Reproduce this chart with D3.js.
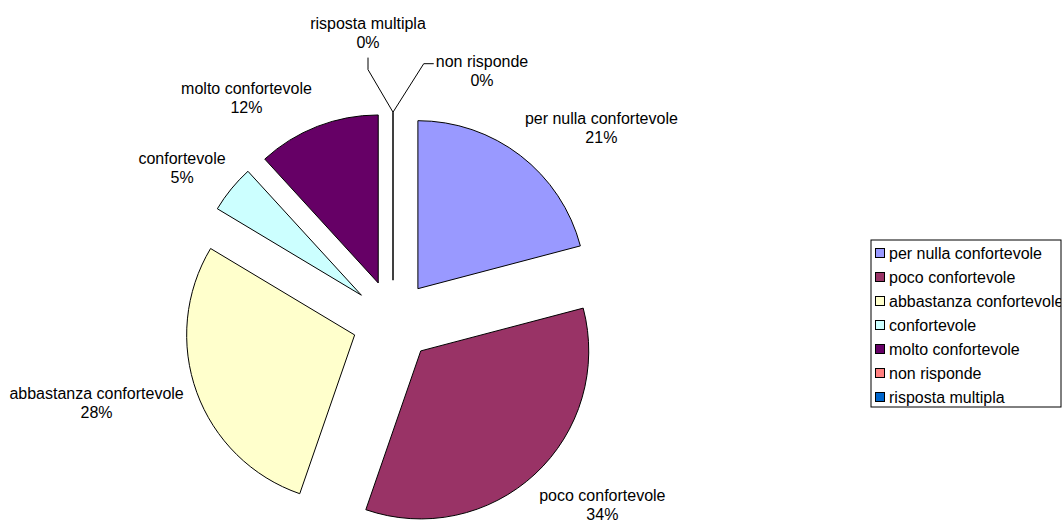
<!DOCTYPE html>
<html><head><meta charset="utf-8">
<script src="https://cdn.jsdelivr.net/npm/d3@7/dist/d3.min.js"></script>
<style>
body{margin:0;background:#fff;}
svg text{font-family:Arial,"Liberation Sans",sans-serif;font-size:16px;fill:#000;}
</style>
</head><body>
<svg id="chart" width="1062" height="524"></svg>
<script>
// ---- data ----
const categories = ["per nulla confortevole","poco confortevole","abbastanza confortevole","confortevole","molto confortevole","non risponde","risposta multipla"];
const values = [20.9,34.4,28.3,4.6,11.8,0,0];
const percentLabels = ["21%","34%","28%","5%","12%","0%","0%"];
const colors = ["#9999FF","#993366","#FFFFCC","#CCFFFF","#660066","#FF8080","#0066CC"];

// ---- layout (not data) ----
const W = 1062, H = 524;
const cx = 393, cy = 321, R = 168, explode = 40.8, labelR = 238.8;
const labelNudges = [[62.6,-4.3],[47,9],[-72,0.5],[-26,-2],[-60,-1],[89,-11],[-25,-49.7]];
const lineGap = 19;

const svg = d3.select("#chart");
const pie = d3.pie().sort(null).value(d => d)(values);
const arc = d3.arc().innerRadius(0).outerRadius(R);
const dir = a => [Math.sin(a), -Math.cos(a)];

const g = svg.append("g").attr("transform", `translate(${cx},${cy})`);
pie.forEach((p, i) => {
  const mid = (p.startAngle + p.endAngle) / 2;
  const [dx, dy] = dir(mid);
  const sg = g.append("g").attr("transform", `translate(${dx*explode},${dy*explode})`);
  if (p.endAngle - p.startAngle > 0) {
    sg.append("path").attr("d", arc(p)).attr("fill", colors[i]).attr("stroke", "#000").attr("stroke-width", 1);
  } else {
    sg.append("line").attr("x1", 0).attr("y1", 0).attr("x2", dx*R).attr("y2", dy*R)
      .attr("stroke", "#000").attr("stroke-width", 1);
  }
});

// labels
const labelG = svg.append("g");
pie.forEach((p, i) => {
  const mid = (p.startAngle + p.endAngle) / 2;
  const [dx, dy] = dir(mid);
  const lx = cx + dx*labelR + labelNudges[i][0];
  const ly = cy + dy*labelR + labelNudges[i][1];
  const t = labelG.append("text").attr("text-anchor", "middle");
  t.append("tspan").attr("x", lx).attr("y", ly - lineGap/2).attr("dy", "0.35em").text(categories[i]);
  t.append("tspan").attr("x", lx).attr("y", ly + lineGap/2).attr("dy", "0.35em").text(percentLabels[i]);
  if (values[i] === 0) {
    const ox = cx + dx*(explode + R), oy = cy + dy*(explode + R);
    const bb = t.node().getBBox();
    let pts;
    if (lx > ox) {
      const ex = bb.x - 2, ey = ly - lineGap/2 + 2;
      pts = [[ox, oy], [ex - 10, ey], [ex, ey]];
    } else {
      const ex = lx, ey = bb.y + bb.height + 7;
      pts = [[ox, oy], [ex, ey + 12], [ex, ey]];
    }
    labelG.append("path").attr("d", d3.line()(pts)).attr("fill", "none").attr("stroke", "#000").attr("stroke-width", 1);
  }
});

// legend
const lgX = 871, lgY = 240, lgW = 190, lgH = 167, rowH = 24;
svg.append("defs").append("clipPath").attr("id", "lgclip")
  .append("rect").attr("x", lgX).attr("y", lgY).attr("width", lgW).attr("height", lgH);
const lg = svg.append("g");
lg.append("rect").attr("x", lgX).attr("y", lgY).attr("width", lgW).attr("height", lgH)
  .attr("fill", "#fff").attr("stroke", "#000").attr("stroke-width", 1);
const items = lg.append("g").attr("clip-path", "url(#lgclip)");
categories.forEach((c, i) => {
  const y = lgY + 13 + i*rowH;
  items.append("rect").attr("x", lgX + 4.5).attr("y", y - 4.5).attr("width", 9).attr("height", 9)
    .attr("fill", colors[i]).attr("stroke", "#000").attr("stroke-width", 1);
  items.append("text").attr("x", lgX + 18).attr("y", y).attr("dy", "0.35em").text(c);
});
</script>
</body></html>
